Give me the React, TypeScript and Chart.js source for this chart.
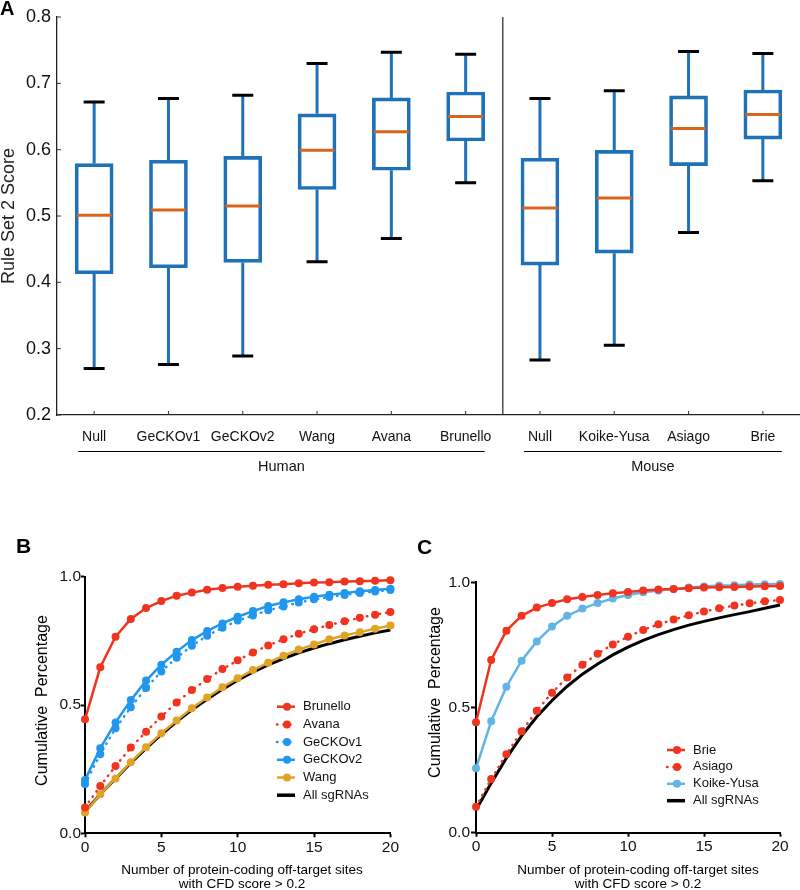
import { useEffect, useRef } from 'react';
import { Chart, registerables } from 'chart.js';

Chart.register(...registerables);

const FONT = '"Liberation Sans", Arial, Helvetica, sans-serif';

// ---------- Panel A: box plots ----------
const boxCategories = ['Null', 'GeCKOv1', 'GeCKOv2', 'Wang', 'Avana', 'Brunello', 'Null', 'Koike-Yusa', 'Asiago', 'Brie'];
const whiskerLow = [0.270, 0.276, 0.289, 0.431, 0.466, 0.550, 0.283, 0.305, 0.475, 0.553];
const quartile1 = [0.413, 0.422, 0.430, 0.540, 0.569, 0.613, 0.426, 0.444, 0.576, 0.616];
const medians = [0.501, 0.509, 0.515, 0.599, 0.627, 0.650, 0.512, 0.527, 0.632, 0.653];
const quartile3 = [0.579, 0.584, 0.590, 0.654, 0.678, 0.687, 0.587, 0.599, 0.681, 0.690];
const whiskerHigh = [0.672, 0.677, 0.682, 0.730, 0.747, 0.744, 0.677, 0.689, 0.748, 0.745];
const groupNames = ['Human', 'Mouse'];
const groupFirst = [0, 6];
const groupLast = [5, 9];
const boxYTitle = 'Rule Set 2 Score';

// ---------- Panels B and C: cumulative curves ----------
const offTargetSites = [0, 1, 2, 3, 4, 5, 6, 7, 8, 9, 10, 11, 12, 13, 14, 15, 16, 17, 18, 19, 20];

const brunello = [0.444, 0.647, 0.766, 0.835, 0.878, 0.905, 0.926, 0.938, 0.949, 0.956, 0.961, 0.965, 0.969, 0.971, 0.974, 0.977, 0.978, 0.981, 0.982, 0.984, 0.986];
const avana = [0.101, 0.184, 0.262, 0.334, 0.396, 0.455, 0.510, 0.558, 0.601, 0.640, 0.674, 0.705, 0.732, 0.756, 0.778, 0.795, 0.812, 0.826, 0.840, 0.852, 0.862];
const geckoV1 = [0.192, 0.308, 0.409, 0.491, 0.566, 0.631, 0.684, 0.731, 0.770, 0.801, 0.829, 0.849, 0.869, 0.884, 0.899, 0.912, 0.921, 0.929, 0.936, 0.942, 0.948];
const geckoV2 = [0.208, 0.331, 0.432, 0.519, 0.595, 0.657, 0.708, 0.753, 0.788, 0.818, 0.844, 0.866, 0.886, 0.900, 0.912, 0.922, 0.930, 0.936, 0.943, 0.948, 0.953];
const wang = [0.081, 0.152, 0.214, 0.277, 0.335, 0.390, 0.440, 0.487, 0.529, 0.569, 0.604, 0.636, 0.665, 0.692, 0.716, 0.736, 0.756, 0.771, 0.784, 0.797, 0.810];
const allHuman = [0.084, 0.152, 0.213, 0.274, 0.331, 0.385, 0.435, 0.481, 0.522, 0.561, 0.597, 0.628, 0.656, 0.681, 0.703, 0.722, 0.739, 0.754, 0.768, 0.781, 0.792];

const brie = [0.441, 0.690, 0.807, 0.866, 0.899, 0.917, 0.932, 0.941, 0.949, 0.956, 0.961, 0.967, 0.971, 0.973, 0.976, 0.979, 0.980, 0.981, 0.983, 0.984, 0.985];
const asiago = [0.104, 0.214, 0.313, 0.405, 0.487, 0.559, 0.620, 0.671, 0.715, 0.752, 0.783, 0.810, 0.832, 0.851, 0.868, 0.883, 0.896, 0.907, 0.916, 0.924, 0.929];
const koikeYusa = [0.257, 0.445, 0.583, 0.687, 0.764, 0.823, 0.866, 0.895, 0.917, 0.935, 0.949, 0.960, 0.967, 0.973, 0.979, 0.983, 0.987, 0.988, 0.991, 0.992, 0.993];
const allMouse = [0.091, 0.198, 0.298, 0.387, 0.463, 0.528, 0.585, 0.633, 0.674, 0.710, 0.741, 0.768, 0.791, 0.811, 0.829, 0.844, 0.858, 0.871, 0.883, 0.896, 0.909];

const yTitleCurve = 'Cumulative  Percentage';
const xTitleLines = ['Number of protein-coding off-target sites', 'with CFD score > 0.2'];

const RED = '#F0341F';
const BLUE = '#2196EE';
const GOLD = '#E0A326';
const LIGHTBLUE = '#62B4E4';
const BOX_BLUE = '#1F72B8';
const MEDIAN = '#D9641C';

// ---------- Panel A component ----------
function BoxPanel() {
  const ref = useRef<HTMLCanvasElement>(null);
  useEffect(() => {
    const canvas = ref.current!;
    const plugin = {
      id: 'boxExtras',
      beforeDatasetsDraw(chart: any) {
        const { ctx, scales } = chart;
        const x = scales.x, y = scales.y;
        ctx.save();
        for (let i = 0; i < boxCategories.length; i++) {
          const cx = x.getPixelForValue(i);
          ctx.strokeStyle = BOX_BLUE;
          ctx.lineWidth = 3;
          ctx.beginPath();
          ctx.moveTo(cx, y.getPixelForValue(whiskerLow[i]));
          ctx.lineTo(cx, y.getPixelForValue(quartile1[i]));
          ctx.moveTo(cx, y.getPixelForValue(quartile3[i]));
          ctx.lineTo(cx, y.getPixelForValue(whiskerHigh[i]));
          ctx.stroke();
          ctx.strokeStyle = '#000';
          ctx.beginPath();
          ctx.moveTo(cx - 10.5, y.getPixelForValue(whiskerLow[i]));
          ctx.lineTo(cx + 10.5, y.getPixelForValue(whiskerLow[i]));
          ctx.moveTo(cx - 10.5, y.getPixelForValue(whiskerHigh[i]));
          ctx.lineTo(cx + 10.5, y.getPixelForValue(whiskerHigh[i]));
          ctx.stroke();
        }
        ctx.restore();
      },
      afterDatasetsDraw(chart: any) {
        const { ctx, scales, chartArea } = chart;
        const x = scales.x, y = scales.y;
        ctx.save();
        ctx.strokeStyle = MEDIAN;
        ctx.lineWidth = 3;
        for (let i = 0; i < boxCategories.length; i++) {
          const cx = x.getPixelForValue(i);
          const my = y.getPixelForValue(medians[i]);
          ctx.beginPath();
          ctx.moveTo(cx - 17.5, my);
          ctx.lineTo(cx + 17.5, my);
          ctx.stroke();
        }
        // divider between human and mouse
        const dx = (x.getPixelForValue(groupLast[0]) + x.getPixelForValue(groupFirst[1])) / 2;
        ctx.strokeStyle = '#333';
        ctx.lineWidth = 1.3;
        ctx.beginPath();
        ctx.moveTo(dx, chartArea.top);
        ctx.lineTo(dx, chartArea.bottom);
        ctx.stroke();
        // inward ticks
        ctx.lineWidth = 1;
        ctx.beginPath();
        for (const t of y.ticks) {
          const py = y.getPixelForValue(t.value);
          ctx.moveTo(chartArea.left, py);
          ctx.lineTo(chartArea.left + 4, py);
        }
        for (let i = 0; i < boxCategories.length; i++) {
          const px = x.getPixelForValue(i);
          ctx.moveTo(px, chartArea.bottom);
          ctx.lineTo(px, chartArea.bottom - 4);
        }
        ctx.stroke();
        // group lines + labels
        ctx.fillStyle = '#111';
        ctx.font = `14.5px ${FONT}`;
        ctx.textAlign = 'center';
        ctx.textBaseline = 'middle';
        for (let g = 0; g < groupNames.length; g++) {
          const x0 = x.getPixelForValue(groupFirst[g]) - 16;
          const x1 = x.getPixelForValue(groupLast[g]) + 19;
          ctx.strokeStyle = '#000';
          ctx.lineWidth = 1;
          ctx.beginPath();
          ctx.moveTo(x0, 451.5);
          ctx.lineTo(x1, 451.5);
          ctx.stroke();
          ctx.fillText(groupNames[g], (x0 + x1) / 2, 467);
        }
        // panel letter
        ctx.font = `bold 20px ${FONT}`;
        ctx.textAlign = 'left';
        ctx.textBaseline = 'alphabetic';
        ctx.fillStyle = '#000';
        ctx.fillText('A', 0, 15);
        ctx.restore();
      },
    };
    const chart = new Chart(canvas, {
      type: 'bar',
      data: {
        labels: boxCategories,
        datasets: [
          {
            data: quartile1.map((v, i) => [v, quartile3[i]]) as any,
            backgroundColor: 'rgba(255,255,255,0)',
            borderColor: BOX_BLUE,
            borderWidth: 3,
            borderSkipped: false,
            barThickness: 38,
          },
        ],
      },
      options: {
        animation: false,
        responsive: false,
        devicePixelRatio: 1,
        layout: { padding: { top: 17, left: 0, right: 0, bottom: 0 } },
        plugins: { legend: { display: false }, tooltip: { enabled: false } },
        scales: {
          x: {
            type: 'category',
            offset: true,
            grid: { display: false, drawTicks: false },
            border: { display: true, color: '#222', width: 1.3 },
            ticks: {
              autoSkip: false,
              maxRotation: 0,
              padding: 14,
              color: '#111',
              font: { family: FONT, size: 14 },
            },
            afterFit: (s: any) => { s.height = 65; },
          },
          y: {
            min: 0.2,
            max: 0.8,
            grid: { display: false, drawTicks: false },
            border: { display: true, color: '#222', width: 1.3 },
            ticks: {
              stepSize: 0.1,
              padding: 6,
              color: '#111',
              font: { family: FONT, size: 18 },
              callback: (v: any) => Number(v).toFixed(1),
            },
            title: {
              display: true,
              text: boxYTitle,
              color: '#222',
              padding: { top: 0, bottom: 0 },
              font: { family: FONT, size: 18, lineHeight: 1.0 },
            },
            afterFit: (s: any) => { s.width = 57; },
          },
        },
      },
      plugins: [plugin],
    });
    return () => chart.destroy();
  }, []);
  return <canvas ref={ref} width={800} height={480} style={{ position: 'absolute', left: 0, top: 0 }} />;
}

// ---------- Panels B/C component ----------
type Series = { label: string; values: number[]; color: string; dotted: boolean; points: boolean };

type CurveCfg = {
  left: number;
  top: number;
  letter: string;
  letterX: number;
  letterY: number;
  padTop: number;
  padRight: number;
  axisWidth: number;
  axisHeight: number;
  yTitleX: number;
  yTitleY: number;
  xTitleX: number;
  xTitleY: number;
  legendX: number;
  legendY: number;
  legendStep: number;
  yTickPad: number;
  yTickLen: number;
  series: Series[];
};

function CurvePanel({ cfg }: { cfg: CurveCfg }) {
  const ref = useRef<HTMLCanvasElement>(null);
  useEffect(() => {
    const canvas = ref.current!;
    const plugin = {
      id: 'curveExtras',
      afterDraw(chart: any) {
        const ctx = chart.ctx;
        ctx.save();
        ctx.fillStyle = '#000';
        ctx.font = `bold 21px ${FONT}`;
        ctx.textAlign = 'left';
        ctx.textBaseline = 'alphabetic';
        ctx.fillText(cfg.letter, cfg.letterX, cfg.letterY);
        // y title
        ctx.save();
        ctx.font = `16px ${FONT}`;
        ctx.translate(cfg.yTitleX, cfg.yTitleY);
        ctx.rotate(-Math.PI / 2);
        ctx.textAlign = 'center';
        ctx.textBaseline = 'middle';
        ctx.fillText(yTitleCurve, 0, 0);
        ctx.restore();
        // x title
        ctx.font = `13.5px ${FONT}`;
        ctx.textAlign = 'center';
        ctx.textBaseline = 'middle';
        xTitleLines.forEach((t, i) => ctx.fillText(t, cfg.xTitleX, cfg.xTitleY + i * 14.5));
        // legend
        ctx.font = `13px ${FONT}`;
        ctx.textAlign = 'left';
        cfg.series.forEach((s, i) => {
          const y = cfg.legendY + i * cfg.legendStep;
          ctx.strokeStyle = s.color;
          ctx.lineWidth = s.points ? 2.5 : 3.5;
          ctx.lineCap = s.dotted ? 'round' : 'butt';
          ctx.setLineDash(s.dotted ? [0.5, 6] : []);
          ctx.beginPath();
          ctx.moveTo(cfg.legendX, y);
          ctx.lineTo(cfg.legendX + 18, y);
          ctx.stroke();
          ctx.setLineDash([]);
          if (s.points) {
            ctx.fillStyle = s.color;
            ctx.beginPath();
            ctx.arc(cfg.legendX + 10, y, 4, 0, Math.PI * 2);
            ctx.fill();
          }
          ctx.fillStyle = '#111';
          ctx.fillText(s.label, cfg.legendX + 26, y);
        });
        ctx.restore();
      },
    };
    const chart = new Chart(canvas, {
      type: 'line',
      data: {
        datasets: cfg.series.map((s) => ({
          label: s.label,
          data: s.values.map((v, i) => ({ x: offTargetSites[i], y: v })),
          borderColor: s.color,
          backgroundColor: s.color,
          borderWidth: s.points ? 2.5 : 3,
          borderDash: s.dotted ? [0.5, 6] : [],
          borderCapStyle: s.dotted ? 'round' : 'butt',
          pointRadius: s.points ? 4 : 0,
          pointBorderWidth: 0,
          pointBackgroundColor: s.color,
          tension: 0,
          clip: false as any,
        })),
      },
      options: {
        animation: false,
        responsive: false,
        devicePixelRatio: 1,
        layout: { padding: { top: cfg.padTop, right: cfg.padRight, left: 0, bottom: 0 } },
        plugins: { legend: { display: false }, tooltip: { enabled: false } },
        scales: {
          x: {
            type: 'linear',
            min: 0,
            max: 20,
            grid: { drawOnChartArea: false, tickColor: '#000', tickWidth: 2, tickLength: 4 },
            border: { display: true, color: '#000', width: 2 },
            ticks: { stepSize: 5, padding: 1, color: '#111', font: { family: FONT, size: 15.5 } },
            afterFit: (s: any) => { s.height = cfg.axisHeight; },
          },
          y: {
            min: 0,
            max: 1,
            grid: { drawOnChartArea: false, tickColor: '#000', tickWidth: 2, tickLength: cfg.yTickLen },
            border: { display: true, color: '#000', width: 2 },
            ticks: {
              stepSize: 0.5,
              padding: cfg.yTickPad,
              color: '#111',
              font: { family: FONT, size: 15.5 },
              callback: (v: any) => Number(v).toFixed(1),
            },
            afterFit: (s: any) => { s.width = cfg.axisWidth; },
          },
        },
      },
      plugins: [plugin],
    });
    return () => chart.destroy();
  }, [cfg]);
  return <canvas ref={ref} width={400} height={400} style={{ position: 'absolute', left: cfg.left, top: cfg.top }} />;
}

const panelB: CurveCfg = {
  left: 0,
  top: 490,
  letter: 'B',
  letterX: 16,
  letterY: 63,
  padTop: 86.7,
  padRight: 5,
  axisWidth: 85,
  axisHeight: 56.7,
  yTitleX: 43,
  yTitleY: 210.5,
  xTitleX: 242,
  xTitleY: 380,
  legendX: 277,
  legendY: 216.7,
  legendStep: 17.7,
  yTickPad: 0,
  yTickLen: 4,
  series: [
    { label: 'Brunello', values: brunello, color: RED, dotted: false, points: true },
    { label: 'Avana', values: avana, color: RED, dotted: true, points: true },
    { label: 'GeCKOv1', values: geckoV1, color: BLUE, dotted: true, points: true },
    { label: 'GeCKOv2', values: geckoV2, color: BLUE, dotted: false, points: true },
    { label: 'Wang', values: wang, color: GOLD, dotted: false, points: true },
    { label: 'All sgRNAs', values: allHuman, color: '#000', dotted: false, points: false },
  ],
};

const panelC: CurveCfg = {
  left: 400,
  top: 490,
  letter: 'C',
  letterX: 17,
  letterY: 64,
  padTop: 92.3,
  padRight: 20,
  axisWidth: 76,
  axisHeight: 57.3,
  yTitleX: 35.5,
  yTitleY: 202.5,
  xTitleX: 238,
  xTitleY: 380,
  legendX: 267,
  legendY: 260,
  legendStep: 16.9,
  yTickPad: 1,
  yTickLen: 5,
  series: [
    { label: 'Brie', values: brie, color: RED, dotted: false, points: true },
    { label: 'Asiago', values: asiago, color: RED, dotted: true, points: true },
    { label: 'Koike-Yusa', values: koikeYusa, color: LIGHTBLUE, dotted: false, points: true },
    { label: 'All sgRNAs', values: allMouse, color: '#000', dotted: false, points: false },
  ],
};

export default function App() {
  return (
    <div style={{ position: 'absolute', left: 0, top: 0, width: 800, height: 890, background: '#fff', overflow: 'hidden' }}>
      <BoxPanel />
      <CurvePanel cfg={panelB} />
      <CurvePanel cfg={panelC} />
    </div>
  );
}
